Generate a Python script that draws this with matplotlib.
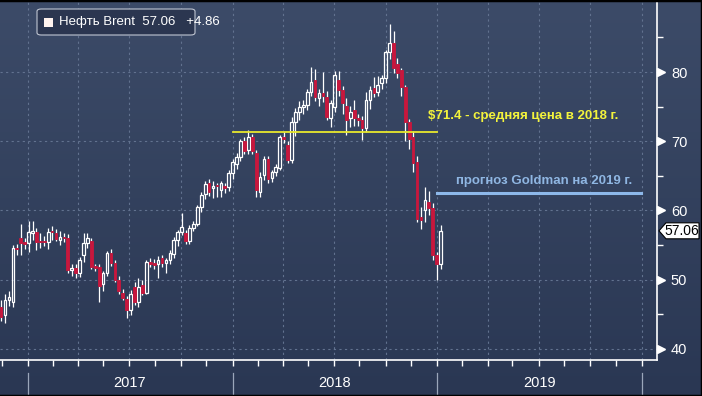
import numpy as np
import pandas as pd
import matplotlib
matplotlib.use("Agg")
import matplotlib.pyplot as plt
import matplotlib.dates as mdates
import matplotlib.transforms as mtransforms
from matplotlib.patches import Polygon, FancyBboxPatch, Rectangle

# weekly Brent candles (Nov 2016 - Jan 2019)
opens = [46.0, 44.9, 47.0, 46.8, 54.6, 56.0, 55.4, 55.3, 56.8, 56.9,
         55.6, 55.6, 55.5, 57.1, 56.8, 55.8, 56.2, 56.0, 51.4, 51.7,
         50.9, 53.6, 55.3, 55.6, 52.0, 51.9, 49.4, 51.0, 53.9, 52.4,
         50.0, 48.1, 47.2, 45.6, 49.0, 46.8, 49.3, 48.1, 52.6, 52.4,
         52.2, 53.1, 52.4, 52.9, 53.7, 55.8, 56.9, 56.8, 55.6, 57.5,
         58.0, 60.5, 62.4, 64.0, 63.2, 63.7, 63.0, 63.5, 63.4, 65.4,
         66.7, 67.7, 70.0, 68.7, 70.6, 68.3, 62.7, 65.1, 67.4, 64.7,
         65.6, 66.1, 70.6, 69.5, 67.3, 72.8, 74.2, 74.9, 75.2, 77.1,
         78.8, 76.2, 77.0, 76.4, 73.4, 75.0, 78.8, 77.4, 75.1, 73.4,
         74.5, 73.4, 73.0, 71.9, 76.0, 77.7, 77.1, 78.4, 79.1, 82.9,
         84.2, 81.2, 80.3, 77.8, 72.8, 70.6, 67.0, 59.1, 60.0, 61.2,
         60.4, 53.6, 52.2]
highs = [47.0, 48.0, 48.3, 55.0, 55.2, 58.1, 56.0, 58.5, 58.5, 57.5,
         56.8, 56.3, 57.4, 57.8, 57.3, 57.0, 56.8, 56.6, 52.3, 52.2,
         53.3, 56.8, 56.8, 56.0, 52.3, 52.2, 51.3, 54.2, 54.5, 52.8,
         50.5, 48.6, 47.6, 48.5, 49.6, 50.3, 50.0, 52.9, 53.2, 53.0,
         53.4, 53.5, 53.2, 54.3, 56.1, 57.2, 59.6, 57.2, 57.9, 58.5,
         60.8, 62.7, 64.3, 64.5, 64.2, 64.0, 64.3, 64.0, 65.8, 67.4,
         68.3, 70.3, 70.6, 71.6, 71.0, 68.7, 65.5, 67.8, 67.9, 65.9,
         66.7, 70.9, 71.3, 70.1, 73.5, 74.8, 75.8, 76.0, 77.6, 80.7,
         80.5, 77.5, 80.0, 77.3, 76.0, 80.2, 80.2, 78.0, 76.2, 75.1,
         76.0, 74.0, 73.6, 77.1, 78.0, 79.3, 79.4, 79.6, 83.2, 86.9,
         85.9, 82.0, 80.6, 78.1, 73.2, 71.5, 67.8, 60.5, 63.4, 62.8,
         61.1, 54.0, 57.9]
lows = [44.0, 43.8, 46.2, 46.0, 53.5, 53.6, 54.5, 54.0, 55.8, 54.3,
        54.6, 54.9, 54.5, 55.8, 55.6, 55.0, 55.5, 51.0, 50.6, 50.3,
        50.4, 52.6, 54.6, 51.5, 51.2, 46.8, 48.3, 50.5, 52.0, 49.7,
        47.9, 47.0, 44.5, 44.9, 46.4, 46.0, 47.8, 47.9, 51.8, 51.6,
        50.3, 51.9, 50.9, 52.3, 53.2, 54.9, 56.4, 55.2, 55.2, 57.0,
        57.7, 59.8, 61.6, 62.1, 61.8, 61.9, 62.0, 62.5, 62.8, 64.6,
        66.0, 67.1, 68.2, 68.1, 68.2, 62.0, 62.0, 64.4, 63.9, 64.1,
        65.0, 65.8, 69.8, 66.9, 66.8, 70.8, 73.1, 74.0, 74.5, 76.5,
        75.8, 75.1, 75.6, 73.0, 72.1, 74.2, 76.5, 74.0, 70.9, 72.0,
        72.2, 72.2, 70.2, 71.3, 74.6, 76.4, 76.6, 77.5, 78.4, 81.9,
        79.9, 79.1, 76.5, 70.1, 68.9, 65.6, 58.4, 57.3, 58.3, 59.3,
        52.9, 50.0, 51.5]
closes = [44.6, 47.1, 47.5, 54.6, 54.4, 55.3, 55.2, 56.9, 57.1, 55.5,
          55.5, 55.5, 56.9, 56.9, 55.9, 56.2, 56.0, 51.4, 51.7, 50.9,
          52.8, 55.3, 56.0, 51.9, 51.7, 49.1, 51.0, 53.9, 52.4, 50.0,
          48.3, 47.4, 45.6, 48.0, 46.8, 49.0, 48.1, 52.6, 52.2, 52.1,
          52.9, 52.4, 52.9, 53.9, 55.8, 56.9, 57.6, 55.6, 57.5, 58.0,
          60.5, 62.2, 63.8, 62.7, 63.6, 63.5, 63.9, 63.3, 65.4, 67.0,
          67.7, 70.0, 68.6, 70.6, 68.6, 63.0, 64.8, 67.4, 64.5, 65.6,
          66.3, 70.6, 70.3, 67.3, 72.8, 74.2, 75.0, 75.3, 77.1, 78.6,
          76.4, 77.0, 76.5, 73.5, 75.5, 79.6, 77.4, 75.5, 73.0, 74.2,
          73.4, 73.0, 71.9, 76.0, 77.4, 77.0, 78.1, 79.1, 82.9, 84.2,
          80.6, 79.9, 77.8, 72.8, 70.3, 66.9, 58.8, 58.6, 61.5, 60.4,
          53.6, 52.2, 57.06]

avg_2018 = 71.4
goldman_2019 = 62.5
years = [2017, 2018, 2019]

dates = pd.date_range("2016-11-14", periods=len(closes), freq="7D")

bg_top, bg_bot = "#3c4b68", "#2a3753"
red = "#c8173d"
white = "#ffffff"
grid_c = "#62728f"

fig = plt.figure(figsize=(7.02, 3.96), dpi=100)
fig.patch.set_facecolor(bg_bot)

# gradient background
bg = fig.add_axes([0, 0, 1, 1], zorder=0)
grad = np.linspace(0, 1, 256).reshape(-1, 1)
cmap = matplotlib.colors.LinearSegmentedColormap.from_list("bg", [bg_top, bg_bot])
bg.imshow(grad, aspect="auto", cmap=cmap, extent=[0, 1, 0, 1])
bg.axis("off")

ax = fig.add_axes([0, 0.0909, 0.9359, 0.9091], zorder=1)
ax.patch.set_alpha(0)

x = mdates.date2num(dates)
o = np.array(opens); c = np.array(closes)
h = np.array(highs); l = np.array(lows)
up = c >= o
w = 4.8
top = np.maximum(o, c); bot = np.minimum(o, c)

# wicks
ax.vlines(x, top, h, color=white, lw=0.9, zorder=3)
ax.vlines(x, l, bot, color=white, lw=0.9, zorder=3)
# bodies
ax.bar(x[up], (c - o)[up], bottom=o[up], width=w, facecolor="none",
       edgecolor=white, linewidth=0.9, zorder=4)
ax.bar(x[~up], (o - c)[~up], bottom=c[~up], width=w, facecolor=red,
       edgecolor=red, linewidth=0.6, zorder=4)

# reference lines
y0 = mdates.date2num(pd.Timestamp("2018-01-01"))
y1 = mdates.date2num(pd.Timestamp("2019-01-01"))
y2 = mdates.date2num(pd.Timestamp("2019-12-31"))
ax.plot([y0, y1], [avg_2018, avg_2018], color="#e8e82c", lw=1.3, zorder=5)
ax.plot([y1, y2], [goldman_2019, goldman_2019], color="#8db8ea", lw=2.2, zorder=5)
ax.text(mdates.date2num(pd.Timestamp("2018-12-16")), avg_2018 + 2.2,
        f"${avg_2018} - средняя цена в 2018 г.", color="#f3f33c",
        fontsize=9.5, fontweight="bold", family="Liberation Sans", va="center", zorder=6)
ax.text(mdates.date2num(pd.Timestamp("2019-02-04")), goldman_2019 + 1.8,
        "прогноз Goldman на 2019 г.", color="#8fb6e2",
        fontsize=9.5, fontweight="bold", family="Liberation Sans", va="center", zorder=6)

# grid
for q in pd.date_range("2017-01-01", "2020-01-01", freq="QS"):
    ax.axvline(mdates.date2num(q), color=grid_c, lw=0.8, ls=(0, (2, 3)), zorder=1)
for v in [40, 50, 60, 70, 80]:
    ax.axhline(v, color=grid_c, lw=0.8, ls=(0, (2, 3)), zorder=1)

# spines
for s in ["left", "top"]:
    ax.spines[s].set_visible(False)
for s in ["right", "bottom"]:
    ax.spines[s].set_color(white)
    ax.spines[s].set_linewidth(1.2)

# right axis
narrow = ["Liberation Sans Narrow", "Liberation Sans", "DejaVu Sans"]
ax.yaxis.tick_right()
ax.set_yticks([40, 50, 60, 70, 80])
ax.set_yticks([45, 55, 65, 75, 85], minor=True)
ax.tick_params(axis="y", which="major", length=0, pad=10, labelcolor=white, labelsize=10.5)
ax.tick_params(axis="y", which="minor", length=4, width=1, color=white, direction="out")
for lab in ax.get_yticklabels():
    lab.set_family(narrow)

# x ticks every 1.5 months
tick_dates = []
for yr in range(2016, 2020):
    for md in ["01-01", "02-15", "04-01", "05-15", "07-01", "08-15", "10-01", "11-15"]:
        tick_dates.append(pd.Timestamp(f"{yr}-{md}"))
tick_dates.append(pd.Timestamp("2020-01-01"))
ax.set_xticks(mdates.date2num(tick_dates))
ax.set_xticklabels([])
ax.tick_params(axis="x", length=4, width=1, color=white, direction="out")

# limits (after ticks, so set_xticks does not widen them)
ax.set_ylim(38.4, 90.4)
ax.set_xlim(mdates.date2num(pd.Timestamp("2016-11-12")),
            mdates.date2num(pd.Timestamp("2020-01-28")))

ytr = mtransforms.blended_transform_factory(ax.transAxes, ax.transData)
ax.plot([1.0] * 5, [40, 50, 60, 70, 80], ls="none", marker=">", ms=5.5, color=white,
        transform=mtransforms.offset_copy(ytr, fig=fig, x=4, y=0, units="dots"),
        clip_on=False, zorder=6)

# year separators and labels
xtr = mtransforms.blended_transform_factory(ax.transData, ax.transAxes)
for yr in years + [2020]:
    xv = mdates.date2num(pd.Timestamp(f"{yr}-01-01"))
    ax.plot([xv, xv], [-0.036, -0.11], color="#9aa6ba", lw=0.9,
            transform=xtr, clip_on=False)
for yr in years:
    xv = mdates.date2num(pd.Timestamp(f"{yr}-07-02"))
    ax.text(xv, -0.065, str(yr), color=white, fontsize=10.5, family=narrow,
            ha="center", va="center", transform=xtr)

# last price tag
fig.canvas.draw()
px, py = ytr.transform((1.0, closes[-1]))
verts = np.array([[2, 0], [9, 8], [42, 8], [42, -8], [9, -8]])
tag = Polygon(verts, closed=True, facecolor="white", edgecolor="black", lw=0.8,
              transform=mtransforms.Affine2D().translate(px, py), zorder=7)
fig.add_artist(tag)
fig.text((px + 25) / fig.bbox.width, py / fig.bbox.height, f"{closes[-1]:.2f}",
         color="black", fontsize=10, family=narrow, ha="center", va="center", zorder=8)

# legend box
chg = closes[-1] - closes[-2]
fw, fh = fig.bbox.width, fig.bbox.height
box = FancyBboxPatch((37 / fw, 1 - 35 / fh), 158 / fw, 26 / fh,
                     boxstyle="round,pad=0,rounding_size=0.006",
                     transform=fig.transFigure, facecolor="#2b3650",
                     edgecolor="#c0c6d2", lw=0.8, zorder=9)
fig.add_artist(box)
fig.add_artist(Rectangle((44 / fw, 1 - 27 / fh), 9 / fw, 9 / fh, transform=fig.transFigure,
                         facecolor="#fff3ef", edgecolor="none", zorder=10))
fig.text(59 / fw, 1 - 22.5 / fh, f"Нефть Brent  {closes[-1]:.2f}   {chg:+.2f}", color=white,
         fontsize=9.5, family="Liberation Sans", va="center", ha="left", zorder=10)

# dark frame on top, right and bottom edges
for xs, ys in [([0, 1], [1, 1]), ([1, 1], [0, 1]), ([0, 1], [0, 0])]:
    fig.add_artist(plt.Line2D(xs, ys, color="black", lw=2.5, transform=fig.transFigure, zorder=11))

fig.savefig("out.png", dpi=100, facecolor=fig.get_facecolor())
